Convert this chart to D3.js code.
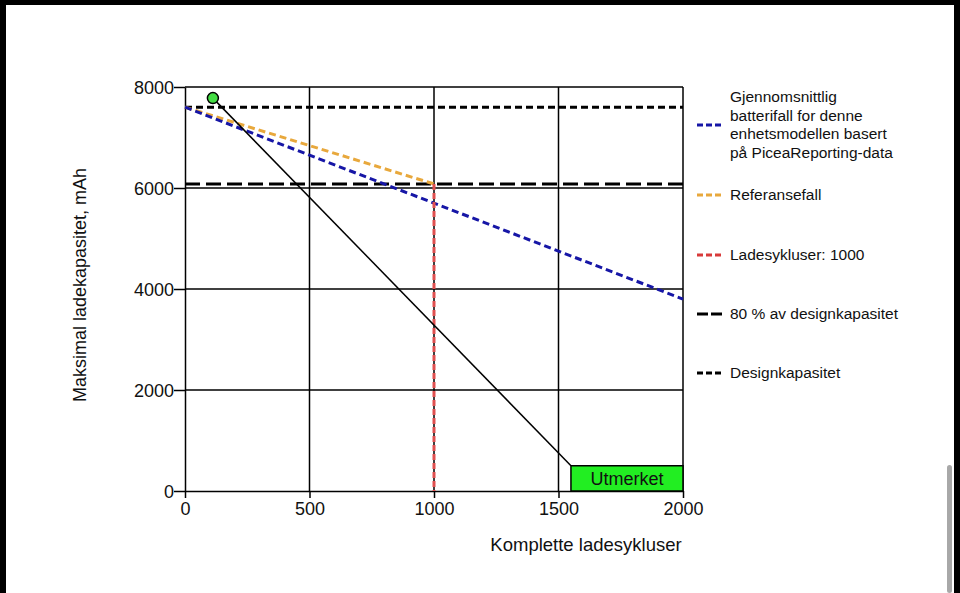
<!DOCTYPE html>
<html>
<head>
<meta charset="utf-8">
<script src="https://cdn.jsdelivr.net/npm/d3@7"></script>
<style>
  html, body { margin: 0; padding: 0; background: #000; }
  #canvas { width: 960px; height: 593px; }
</style>
</head>
<body>
<div id="canvas"></div>
<script type="text/javascript">

    // data
    var xTicks = [0, 500, 1000, 1500, 2000];
    var yTicks = [0, 2000, 4000, 6000, 8000];
    var designCapacity = 7600;
    var eightyPercent = 6080;
    var chargeCycles = 1000;
    // average fall: [cycles, mAh]
    var averageFall = [[0, 7600], [2000, 3800]];
    var referenceFall = [[0, 7600], [1000, 6080]];
    var devicePoint = [112, 7780];
    var ratingPoint = [1550, 500];
    var ratingBox = {x0: 1550, x1: 2000, y0: 0, y1: 500, label: "Utmerket"};

    var legendItems = [
        {lines: ["Gjennomsnittlig", "batterifall for denne", "enhetsmodellen basert", "på PiceaReporting-data"], color: "#1616a6", dash: "6,3"},
        {lines: ["Referansefall"], color: "#e8a83c", dash: "6,3"},
        {lines: ["Ladesykluser: 1000"], color: "#d83a3a", dash: "6,3"},
        {lines: ["80 % av designkapasitet"], color: "#000", dash: "11,3"},
        {lines: ["Designkapasitet"], color: "#000", dash: "6,3"}
    ];
    var legendY = [125, 195, 255, 314, 373];

    var width = 960, height = 593;
    var margin = {top: 87, left: 185};
    var plotW = 498, plotH = 404;

    var svg = d3.select("#canvas").append("svg")
        .attr("width", width)
        .attr("height", height)
        .style("font-family", "'Liberation Sans', Arial, sans-serif");

    // white page with dark frame
    svg.append("rect").attr("x", 6).attr("y", 5).attr("width", 948).attr("height", 588).attr("fill", "#fff");
    svg.append("rect").attr("x", 947).attr("y", 465).attr("width", 5).attr("height", 128).attr("rx", 2.5).attr("fill", "#a8a8a8");

    var x = d3.scaleLinear().domain([0, 2000]).range([0, plotW]);
    var y = d3.scaleLinear().domain([0, 8000]).range([plotH, 0]);

    var g = svg.append("g").attr("transform", `translate(${margin.left},${margin.top})`);

    // grid
    g.selectAll(".vg").data(xTicks.slice(1)).enter().append("line")
        .attr("x1", d => x(d)).attr("x2", d => x(d))
        .attr("y1", 0).attr("y2", plotH)
        .attr("stroke", "#000").attr("stroke-width", 1.5);
    g.selectAll(".hg").data(yTicks.slice(1)).enter().append("line")
        .attr("x1", 0).attr("x2", plotW)
        .attr("y1", d => y(d)).attr("y2", d => y(d))
        .attr("stroke", "#000").attr("stroke-width", 1.5);

    // axes
    var xaxis = d3.axisBottom(x).tickValues(xTicks).tickSize(7).tickSizeOuter(0).tickFormat(d3.format("d"));
    var yaxis = d3.axisLeft(y).tickValues(yTicks).tickSize(11).tickSizeOuter(0).tickFormat(d3.format("d"));
    var gx = g.append("g").attr("transform", `translate(0,${plotH})`).call(xaxis);
    var gy = g.append("g").call(yaxis);
    [gx, gy].forEach(function(a) {
        a.select(".domain").attr("stroke", "#000").attr("stroke-width", 1.5);
        a.selectAll(".tick line").attr("stroke", "#000").attr("stroke-width", 1.5);
        a.selectAll("text").attr("fill", "#111").style("font-size", "18px").style("font-family", "'Liberation Sans', Arial, sans-serif");
    });
    gx.selectAll("text").attr("dy", "0.9em").attr("y", 8);
    gy.selectAll("text").attr("x", -11).attr("dy", "0.35em");

    var line = d3.line().x(d => x(d[0])).y(d => y(d[1]));

    // design capacity
    g.append("line").attr("x1", 0).attr("x2", plotW)
        .attr("y1", y(designCapacity)).attr("y2", y(designCapacity))
        .attr("stroke", "#000").attr("stroke-width", 3).attr("stroke-dasharray", "7,4");
    // 80 %
    g.append("line").attr("x1", 0).attr("x2", plotW)
        .attr("y1", y(eightyPercent)).attr("y2", y(eightyPercent))
        .attr("stroke", "#000").attr("stroke-width", 3).attr("stroke-dasharray", "15,6");

    // reference fall
    g.append("path").datum(referenceFall).attr("d", line)
        .attr("fill", "none").attr("stroke", "#e8a83c").attr("stroke-width", 3).attr("stroke-dasharray", "7,4");
    // average fall
    g.append("path").datum(averageFall).attr("d", line)
        .attr("fill", "none").attr("stroke", "#1616a6").attr("stroke-width", 3).attr("stroke-dasharray", "7,4");

    // charge cycles marker
    g.append("line").attr("x1", x(chargeCycles)).attr("x2", x(chargeCycles))
        .attr("y1", y(eightyPercent)).attr("y2", y(0))
        .attr("stroke", "#e05050").attr("stroke-width", 3).attr("stroke-dasharray", "6,3");

    // device line
    g.append("line")
        .attr("x1", x(devicePoint[0])).attr("y1", y(devicePoint[1]))
        .attr("x2", x(ratingPoint[0])).attr("y2", y(ratingPoint[1]))
        .attr("stroke", "#000").attr("stroke-width", 1.5);

    g.append("rect")
        .attr("x", x(ratingBox.x0)).attr("y", y(ratingBox.y1))
        .attr("width", x(ratingBox.x1) - x(ratingBox.x0)).attr("height", y(ratingBox.y0) - y(ratingBox.y1))
        .attr("fill", "#22ee22").attr("stroke", "#000").attr("stroke-width", 1.5);
    g.append("text").text(ratingBox.label)
        .attr("x", (x(ratingBox.x0) + x(ratingBox.x1)) / 2)
        .attr("y", (y(ratingBox.y0) + y(ratingBox.y1)) / 2)
        .attr("dy", "0.36em").attr("text-anchor", "middle")
        .style("font-size", "18px").attr("fill", "#111");

    g.append("circle").attr("cx", x(devicePoint[0])).attr("cy", y(devicePoint[1])).attr("r", 5.5)
        .attr("fill", "#44dd44").attr("stroke", "#000").attr("stroke-width", 1.5);

    // axis titles
    svg.append("text").text("Komplette ladesykluser")
        .attr("x", 586).attr("y", 551).attr("text-anchor", "middle")
        .style("font-size", "18.5px").attr("fill", "#111");
    svg.append("text").text("Maksimal ladekapasitet, mAh")
        .attr("transform", "translate(86,285) rotate(-90)")
        .attr("text-anchor", "middle")
        .style("font-size", "18px").attr("fill", "#111");

    // legend
    var lg = svg.append("g");
    legendItems.forEach(function(item, i) {
        var cy = legendY[i];
        lg.append("line").attr("x1", 697).attr("x2", 723).attr("y1", cy).attr("y2", cy)
            .attr("stroke", item.color).attr("stroke-width", 3).attr("stroke-dasharray", item.dash);
        var n = item.lines.length;
        var t = lg.append("text").attr("x", 730).style("font-size", "15.5px").attr("fill", "#111");
        item.lines.forEach(function(s, k) {
            t.append("tspan").attr("x", 730)
                .attr("y", cy + (k - (n - 1) / 2) * 18.5 + 5)
                .text(s);
        });
    });

</script>
</body>
</html>
